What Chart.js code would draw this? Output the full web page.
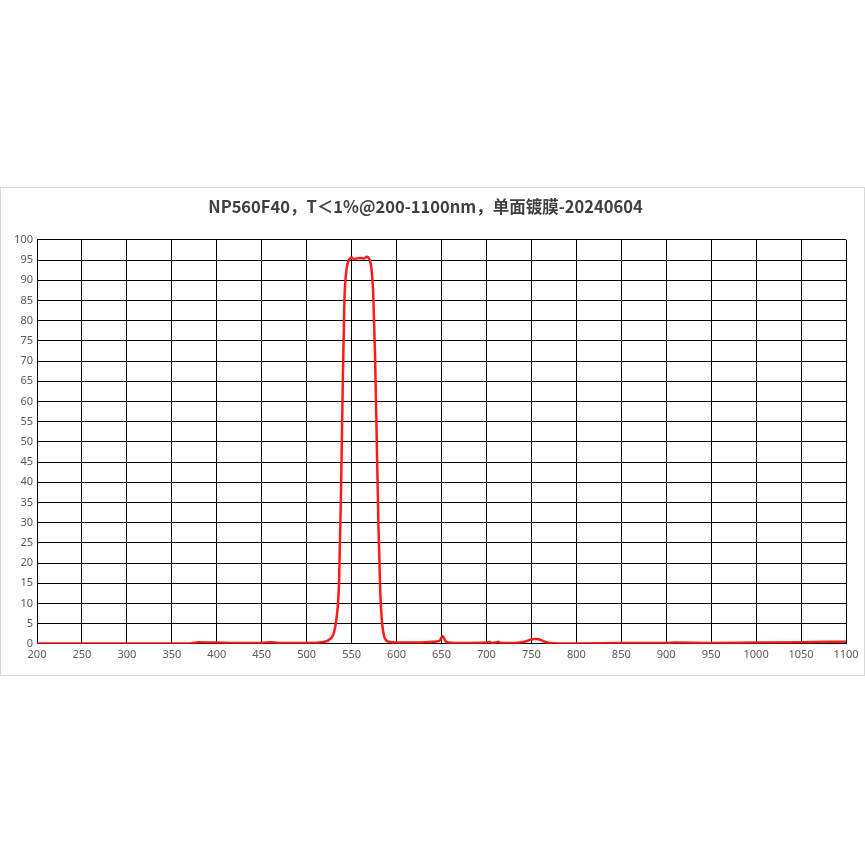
<!DOCTYPE html>
<html><head><meta charset="utf-8">
<script src="https://cdn.jsdelivr.net/npm/chart.js@4"></script>
<style>body{margin:0;background:#fff}#box{position:absolute;left:0;top:187px;width:863px;height:487px;border:1px solid #d9d9d9}</style>
</head><body><div id="box"><canvas id="c"></canvas></div>
<script>
const wavelengths=[200,250,300,350,370,380,400,420,450,460,465,470,500,520,525,530,533,536,538,540,542,544,546,548,550,553,556,560,564,567,570,572,574,576,578,580,582,584,586,588,590,595,600,620,640,648,651,653,655,658,665,680,700,703,706,710,713,716,730,740,745,750,755,760,765,770,780,800,850,900,910,950,1000,1050,1080,1100];
const transmission=[0.1,0.1,0.1,0.1,0.1,0.4,0.3,0.2,0.2,0.4,0.3,0.2,0.2,0.5,1,2.5,6,15,35,62,85,92,94.5,95.3,95.6,95.2,95.4,95.5,95.4,95.8,95,93,87,72,50,28,12,5,2,1,0.6,0.4,0.3,0.3,0.5,0.8,1.9,1.3,0.5,0.3,0.2,0.2,0.3,0.5,0.2,0.3,0.5,0.2,0.2,0.4,0.7,1.1,1.2,1,0.5,0.2,0.1,0.1,0.2,0.2,0.3,0.2,0.3,0.4,0.5,0.5];
const title='NP560F40，T＜1%@200-1100nm，单面镀膜-20240604';
const pts=wavelengths.map((x,i)=>({x,y:transmission[i]}));
new Chart(document.getElementById('c'),{type:'line',
data:{datasets:[{data:pts,borderColor:'#ff1a1a',borderWidth:2.5,pointRadius:0,cubicInterpolationMode:'monotone'}]},
options:{responsive:true,maintainAspectRatio:false,animation:false,
layout:{padding:{left:4,right:18,top:4,bottom:10}},
plugins:{legend:{display:false},tooltip:{enabled:false},
title:{display:true,text:title,color:'#404040',font:{family:'Noto Sans CJK SC',size:16.5,weight:'bold'},padding:{top:5,bottom:23}}},
scales:{
x:{type:'linear',min:200,max:1100,ticks:{stepSize:50,color:'#595959',font:{family:'Noto Sans',size:11},padding:4,callback:v=>String(v)},grid:{color:'#000',lineWidth:1,drawTicks:false},border:{color:'#000'}},
y:{min:0,max:100,afterFit:s=>{s.width=32},ticks:{stepSize:5,color:'#595959',font:{family:'Noto Sans',size:11},padding:4},grid:{color:'#000',lineWidth:1,drawTicks:false},border:{color:'#000'}}
}}});
</script></body></html>
